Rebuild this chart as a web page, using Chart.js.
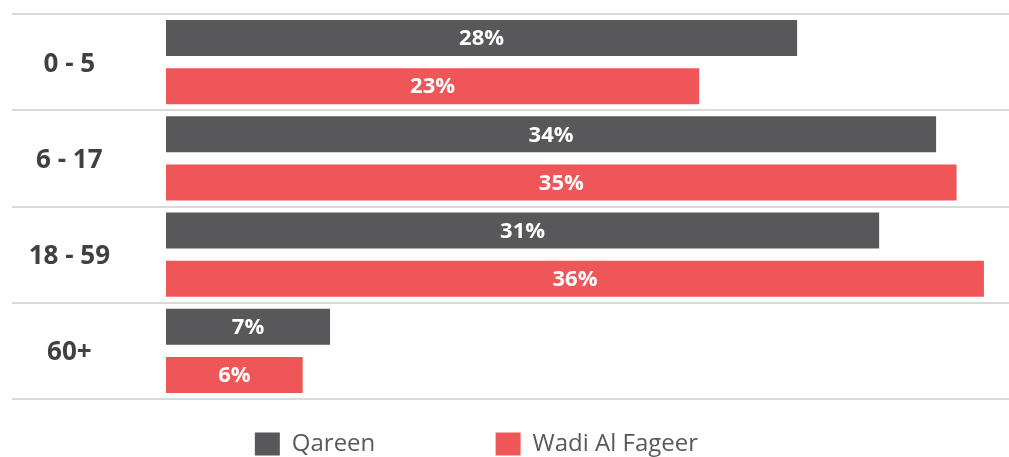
<!DOCTYPE html>
<html>
<head>
<meta charset="utf-8">
<script src="https://cdn.jsdelivr.net/npm/chart.js@4/dist/chart.umd.min.js"></script>
<style>
  html, body { margin: 0; padding: 0; background: #fff; overflow: hidden; }
</style>
</head>
<body>
<canvas id="chart" width="1009" height="466"></canvas>
<script>
const ageGroups = ["0 - 5", "6 - 17", "18 - 59", "60+"];
const qareen = [27.7, 33.8, 31.3, 7.2];
const wadiAlFageer = [23.4, 34.7, 35.9, 6.0];
const seriesNames = ["Qareen", "Wadi Al Fageer"];
const seriesColors = ["#58585a", "#ee5658"];

// extra room after each legend entry
const legendGaps = [" ".repeat(14), " ".repeat(9)];

Chart.defaults.font.family = "'Open Sans', sans-serif";

// white percentage labels centred in each bar
const barLabels = {
  id: "barLabels",
  afterDatasetsDraw(chart) {
    const ctx = chart.ctx;
    ctx.save();
    ctx.font = "bold 22px 'Open Sans'";
    ctx.fillStyle = "#ffffff";
    ctx.textAlign = "center";
    ctx.textBaseline = "middle";
    chart.data.datasets.forEach((ds, i) => {
      chart.getDatasetMeta(i).data.forEach((bar, j) => {
        ctx.fillText(Math.round(ds.data[j]) + "%", (bar.base + bar.x) / 2, bar.y + 1);
      });
    });
    ctx.restore();
  }
};

new Chart(document.getElementById("chart"), {
  type: "bar",
  data: {
    labels: ageGroups,
    datasets: [
      { label: seriesNames[0], data: qareen, backgroundColor: seriesColors[0] },
      { label: seriesNames[1], data: wadiAlFageer, backgroundColor: seriesColors[1] }
    ]
  },
  options: {
    indexAxis: "y",
    responsive: false,
    animation: false,
    layout: { padding: { top: 14, right: 0, bottom: 0, left: 0 } },
    datasets: {
      bar: { categoryPercentage: 1.0, barPercentage: 0.75, borderWidth: 0 }
    },
    scales: {
      x: { display: false, min: 0, max: 37 },
      y: {
        grid: { offset: true, color: "#d9d9d9", lineWidth: 2, drawTicks: true, tickLength: 154 },
        border: { display: false },
        ticks: {
          crossAlign: "center",
          padding: -98,
          labelOffset: 2,
          color: "#404040",
          font: { size: 26, weight: "bold" }
        },
        afterFit(scale) { scale.width = 166; }
      }
    },
    plugins: {
      tooltip: { enabled: false },
      legend: {
        position: "bottom",
        labels: {
          boxWidth: 25,
          boxHeight: 23,
          padding: 33,
          color: "#595959",
          font: { size: 24 },
          generateLabels(chart) {
            const items = Chart.defaults.plugins.legend.labels.generateLabels(chart);
            items.forEach((item, i) => { item.text = item.text + legendGaps[i]; });
            return items;
          }
        }
      }
    }
  },
  plugins: [barLabels]
});
</script>
</body>
</html>
